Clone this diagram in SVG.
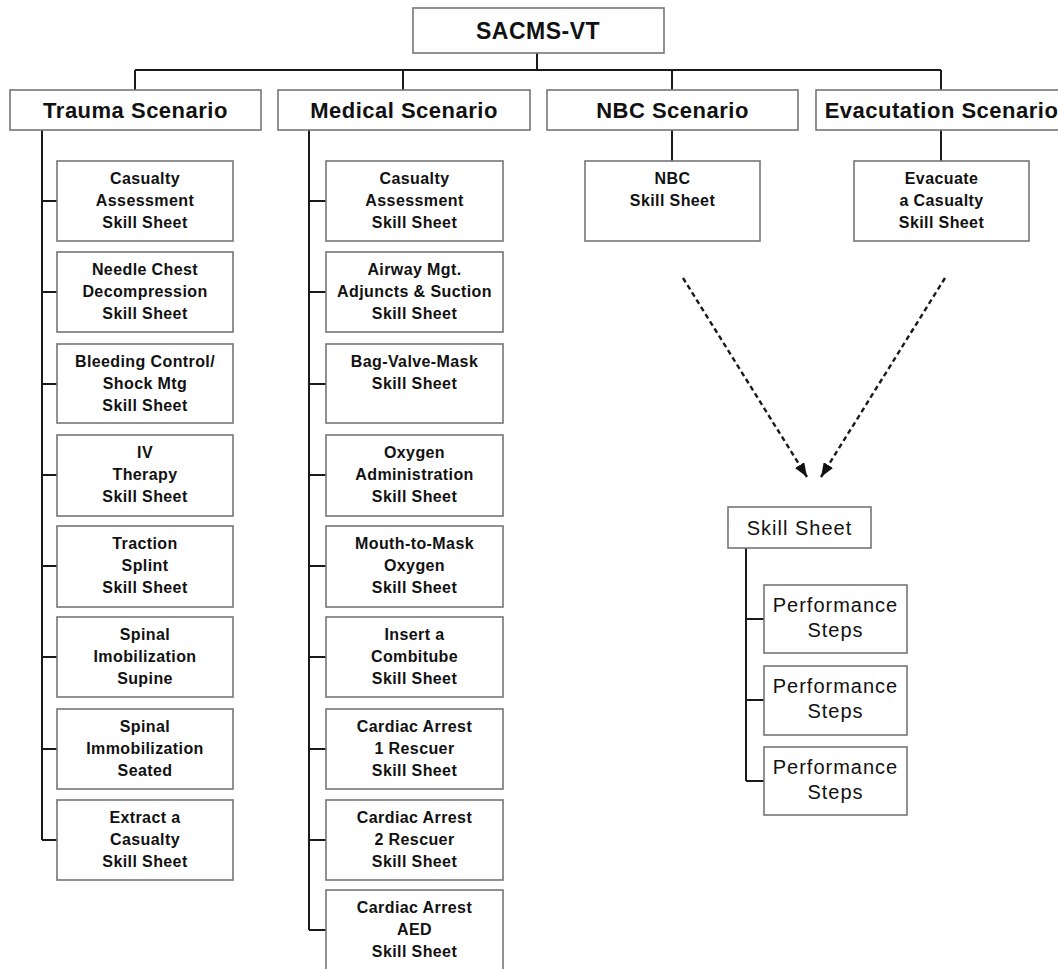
<svg xmlns="http://www.w3.org/2000/svg" width="1058" height="969" viewBox="0 0 1058 969">
<style>
.box{fill:#fff;stroke:#767676;stroke-width:1.6}
.con{fill:none;stroke:#1a1a1a;stroke-width:2}
.dash{fill:none;stroke:#1a1a1a;stroke-width:2.4;stroke-dasharray:5 3.5}
.t0{font-family:"Liberation Sans",Arial,sans-serif;font-weight:bold;font-size:23px;letter-spacing:0.5px;fill:#111;text-anchor:middle}
.t1{font-family:"Liberation Sans",Arial,sans-serif;font-weight:bold;font-size:22px;letter-spacing:0.5px;fill:#111;text-anchor:middle}
.t2{font-family:"Liberation Sans",Arial,sans-serif;font-weight:bold;font-size:16px;letter-spacing:0.4px;fill:#111;text-anchor:middle}
.t3{font-family:"Liberation Sans",Arial,sans-serif;font-size:20px;letter-spacing:1px;fill:#111;text-anchor:middle}
</style>
<defs>
<marker id="ah" markerUnits="userSpaceOnUse" markerWidth="14" markerHeight="11" refX="14" refY="5.5" orient="auto">
<path d="M0,0 L14,5.5 L0,11 z" fill="#111"/>
</marker>
</defs>
<rect width="1058" height="969" fill="#fff"/>

<g id="connectors">
<path class="con" d="M537,53 V70 M135,70 H941 M135,70 V90 M403,70 V90 M672,70 V90 M941,70 V90"/>
<path class="con" d="M672,130 V161 M941,130 V161"/>
<path class="con" d="M42,130 V840 M42,201 H57 M42,292 H57 M42,384 H57 M42,475 H57 M42,566 H57 M42,657 H57 M42,749 H57 M42,840 H57"/>
<path class="con" d="M309,130 V930 M309,201 H326 M309,292 H326 M309,384 H326 M309,475 H326 M309,566 H326 M309,657 H326 M309,749 H326 M309,840 H326 M309,930 H326"/>
<path class="con" d="M746,548 V781 M746,619 H764 M746,700 H764 M746,781 H764"/>
<line class="dash" x1="683" y1="278" x2="807" y2="477" marker-end="url(#ah)"/>
<line class="dash" x1="945" y1="278" x2="821" y2="477" marker-end="url(#ah)"/>
</g>

<g id="root"><rect class="box" x="413" y="8" width="251" height="45"/><text class="t0" x="538" y="39">SACMS-VT</text></g>

<g id="trauma"><rect class="box" x="10" y="90" width="251" height="40"/><text class="t1" x="135.5" y="118">Trauma Scenario</text></g>
<g id="medical"><rect class="box" x="278" y="90" width="252" height="40"/><text class="t1" x="404" y="118">Medical Scenario</text></g>
<g id="nbc"><rect class="box" x="547" y="90" width="251" height="40"/><text class="t1" x="672.5" y="118">NBC Scenario</text></g>
<g id="evac"><rect class="box" x="816" y="90" width="251" height="40"/><text class="t1" x="941.5" y="118">Evacutation Scenario</text></g>

<g id="t1"><rect class="box" x="57" y="161" width="176" height="80"/><text class="t2" x="145" y="184">Casualty</text><text class="t2" x="145" y="206">Assessment</text><text class="t2" x="145" y="228">Skill Sheet</text></g>
<g id="t2"><rect class="box" x="57" y="252" width="176" height="80"/><text class="t2" x="145" y="275">Needle Chest</text><text class="t2" x="145" y="297">Decompression</text><text class="t2" x="145" y="319">Skill Sheet</text></g>
<g id="t3"><rect class="box" x="57" y="344" width="176" height="79"/><text class="t2" x="145" y="367">Bleeding Control/</text><text class="t2" x="145" y="389">Shock Mtg</text><text class="t2" x="145" y="411">Skill Sheet</text></g>
<g id="t4"><rect class="box" x="57" y="435" width="176" height="81"/><text class="t2" x="145" y="458">IV</text><text class="t2" x="145" y="480">Therapy</text><text class="t2" x="145" y="502">Skill Sheet</text></g>
<g id="t5"><rect class="box" x="57" y="526" width="176" height="81"/><text class="t2" x="145" y="549">Traction</text><text class="t2" x="145" y="571">Splint</text><text class="t2" x="145" y="593">Skill Sheet</text></g>
<g id="t6"><rect class="box" x="57" y="617" width="176" height="80"/><text class="t2" x="145" y="640">Spinal</text><text class="t2" x="145" y="662">Imobilization</text><text class="t2" x="145" y="684">Supine</text></g>
<g id="t7"><rect class="box" x="57" y="709" width="176" height="80"/><text class="t2" x="145" y="732">Spinal</text><text class="t2" x="145" y="754">Immobilization</text><text class="t2" x="145" y="776">Seated</text></g>
<g id="t8"><rect class="box" x="57" y="800" width="176" height="80"/><text class="t2" x="145" y="823">Extract a</text><text class="t2" x="145" y="845">Casualty</text><text class="t2" x="145" y="867">Skill Sheet</text></g>

<g id="m1"><rect class="box" x="326" y="161" width="177" height="80"/><text class="t2" x="414.5" y="184">Casualty</text><text class="t2" x="414.5" y="206">Assessment</text><text class="t2" x="414.5" y="228">Skill Sheet</text></g>
<g id="m2"><rect class="box" x="326" y="252" width="177" height="80"/><text class="t2" x="414.5" y="275">Airway Mgt.</text><text class="t2" x="414.5" y="297">Adjuncts &amp; Suction</text><text class="t2" x="414.5" y="319">Skill Sheet</text></g>
<g id="m3"><rect class="box" x="326" y="344" width="177" height="79"/><text class="t2" x="414.5" y="367">Bag-Valve-Mask</text><text class="t2" x="414.5" y="389">Skill Sheet</text></g>
<g id="m4"><rect class="box" x="326" y="435" width="177" height="81"/><text class="t2" x="414.5" y="458">Oxygen</text><text class="t2" x="414.5" y="480">Administration</text><text class="t2" x="414.5" y="502">Skill Sheet</text></g>
<g id="m5"><rect class="box" x="326" y="526" width="177" height="81"/><text class="t2" x="414.5" y="549">Mouth-to-Mask</text><text class="t2" x="414.5" y="571">Oxygen</text><text class="t2" x="414.5" y="593">Skill Sheet</text></g>
<g id="m6"><rect class="box" x="326" y="617" width="177" height="80"/><text class="t2" x="414.5" y="640">Insert a</text><text class="t2" x="414.5" y="662">Combitube</text><text class="t2" x="414.5" y="684">Skill Sheet</text></g>
<g id="m7"><rect class="box" x="326" y="709" width="177" height="80"/><text class="t2" x="414.5" y="732">Cardiac Arrest</text><text class="t2" x="414.5" y="754">1 Rescuer</text><text class="t2" x="414.5" y="776">Skill Sheet</text></g>
<g id="m8"><rect class="box" x="326" y="800" width="177" height="80"/><text class="t2" x="414.5" y="823">Cardiac Arrest</text><text class="t2" x="414.5" y="845">2 Rescuer</text><text class="t2" x="414.5" y="867">Skill Sheet</text></g>
<g id="m9"><rect class="box" x="326" y="890" width="177" height="82"/><text class="t2" x="414.5" y="913">Cardiac Arrest</text><text class="t2" x="414.5" y="935">AED</text><text class="t2" x="414.5" y="957">Skill Sheet</text></g>

<g id="n1"><rect class="box" x="585" y="161" width="175" height="80"/><text class="t2" x="672.5" y="184">NBC</text><text class="t2" x="672.5" y="206">Skill Sheet</text></g>
<g id="e1"><rect class="box" x="854" y="161" width="175" height="80"/><text class="t2" x="941.5" y="184">Evacuate</text><text class="t2" x="941.5" y="206">a Casualty</text><text class="t2" x="941.5" y="228">Skill Sheet</text></g>

<g id="skill"><rect class="box" x="728" y="507" width="143" height="41"/><text class="t3" x="799.5" y="535">Skill Sheet</text></g>
<g id="p1"><rect class="box" x="764" y="585" width="143" height="68"/><text class="t3" x="835.5" y="612">Performance</text><text class="t3" x="835.5" y="637">Steps</text></g>
<g id="p2"><rect class="box" x="764" y="666" width="143" height="69"/><text class="t3" x="835.5" y="693">Performance</text><text class="t3" x="835.5" y="718">Steps</text></g>
<g id="p3"><rect class="box" x="764" y="747" width="143" height="68"/><text class="t3" x="835.5" y="774">Performance</text><text class="t3" x="835.5" y="799">Steps</text></g>
</svg>
